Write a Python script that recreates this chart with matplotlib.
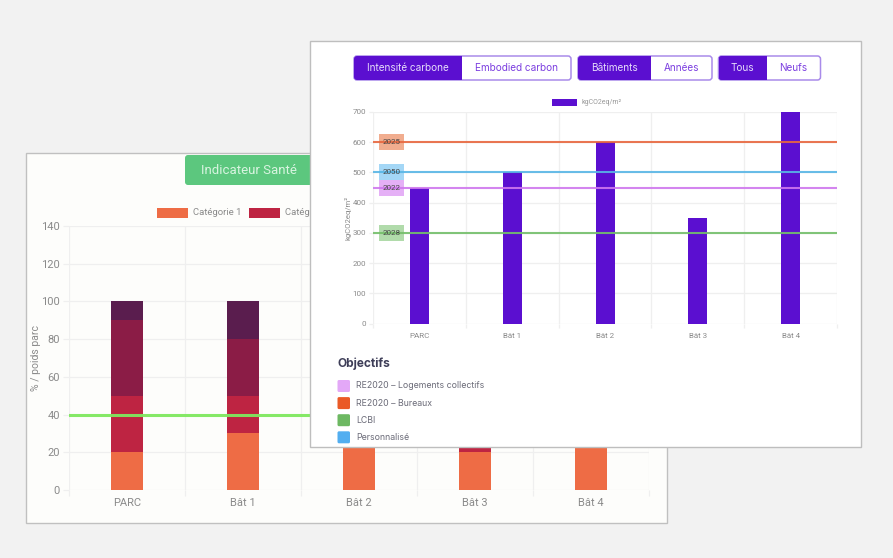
import matplotlib
matplotlib.use("Agg")
import matplotlib.pyplot as plt
from matplotlib.patches import Rectangle, FancyBboxPatch
from matplotlib.transforms import blended_transform_factory
import numpy as np

W, H = 893, 558

categories = ["PARC", "Bât 1", "Bât 2", "Bât 3", "Bât 4"]

# Back chart: stacked shares (hidden parts of Bât 2-4 are estimates)
cat1 = [20, 30, 40, 20, 50]
cat2 = [30, 20, 20, 30, 20]
cat3 = [40, 30, 30, 30, 20]
cat4 = [10, 20, 10, 20, 10]
stack_names = ["Catégorie 1", "Catégorie 2", "Catégorie 3", "Catégorie 4"]
stack_colors = ["#EE6C45", "#BE2442", "#8B1C46", "#5A1D4E"]
back_target = 40

# Front chart
intensity = [450, 500, 600, 350, 700]
goal_years = ["2025", "2050", "2022", "2028"]
goal_values = [600, 500, 450, 300]
goal_colors = ["#E8683F", "#58B6E6", "#CF78EE", "#74BF6A"]
goal_fills = ["#F0A483", "#9AD3F5", "#E3A8F5", "#A9D8A2"]

objective_names = ["RE2020 – Logements collectifs", "RE2020 – Bureaux", "LCBI", "Personnalisé"]
objective_colors = ["#E3A8F7", "#EA5A27", "#6DB862", "#52AEF0"]

PURPLE = "#5B0FD0"
GRID = "#EFEFEF"
TICK = "#8A8A8A"

plt.rcParams["font.family"] = ["Roboto", "DejaVu Sans"]
fig = plt.figure(figsize=(W / 100, H / 100), dpi=100, facecolor="#F2F2F2")


def px_axes(x0, y0, x1, y1, z):
    return fig.add_axes([x0 / W, 1 - y1 / H, (x1 - x0) / W, (y1 - y0) / H], zorder=z)


def chrome(z):
    a = fig.add_axes([0, 0, 1, 1], zorder=z)
    a.set_xlim(0, W)
    a.set_ylim(H, 0)
    a.axis("off")
    a.patch.set_alpha(0)
    return a


def style_chart(ax, ymax, step, tick_fs, xpad, ypad, tl):
    ax.patch.set_alpha(0)
    ax.set_xlim(-0.5, len(categories) - 0.5)
    ax.set_ylim(0, ymax)
    ax.set_yticks(np.arange(0, ymax + 1, step))
    ax.set_xticks(range(len(categories)))
    ax.set_xticklabels(categories)
    ax.set_xticks(np.arange(-0.5, len(categories)), minor=True)
    ax.tick_params(axis="x", which="major", length=0, pad=xpad + tl, labelsize=tick_fs, labelcolor=TICK)
    ax.tick_params(axis="x", which="minor", length=tl, color=GRID, width=0.9)
    ax.tick_params(axis="y", length=tl, color=GRID, width=0.9, pad=ypad, labelsize=tick_fs, labelcolor=TICK)
    ax.set_axisbelow(True)
    ax.grid(True, axis="y", color=GRID, lw=0.9)
    ax.grid(True, axis="x", which="minor", color=GRID, lw=0.9)
    ax.grid(False, axis="x", which="major")
    for s in ax.spines.values():
        s.set_visible(False)


def button_group(a, x0, xs, x1, y0, y1, left, right, fs):
    r = 3
    a.add_patch(FancyBboxPatch((x0 + r, y0 + r), x1 - x0 - 2 * r, y1 - y0 - 2 * r,
                               boxstyle=f"round,pad={r},rounding_size={r}",
                               fc="white", ec="#A98BEA", lw=1.1))
    clip = FancyBboxPatch((x0 + r, y0 + r), x1 - x0 - 2 * r, y1 - y0 - 2 * r,
                          boxstyle=f"round,pad={r},rounding_size={r}",
                          fc=PURPLE, ec="none", transform=a.transData)
    fill = a.add_patch(Rectangle((x0, y0), xs - x0, y1 - y0, fc=PURPLE, ec="none"))
    fill.set_clip_path(clip)
    a.text((x0 + xs) / 2, (y0 + y1) / 2, left, color="#E6DCFA", ha="center", va="center",
           fontsize=fs, family=["Inter", "DejaVu Sans"])
    a.text((xs + x1) / 2, (y0 + y1) / 2, right, color="#7C3FE0", ha="center", va="center",
           fontsize=fs, family=["Inter", "DejaVu Sans"])


# ---- back panel ----
back = chrome(1)
back.add_patch(Rectangle((26, 153), 641, 370, fc="#FDFDFB", ec="#C0C0C0", lw=1.0))
back.add_patch(FancyBboxPatch((188, 158), 130, 24, boxstyle="round,pad=3,rounding_size=3",
                              fc="#5CC77E", ec="none"))
back.text(249, 170.5, "Indicateur Santé", color="#D8F4E0", ha="center", va="center", fontsize=9.5)
for i, name in enumerate(stack_names):
    x = 157 + i * 92
    back.add_patch(Rectangle((x, 208), 31, 10, fc=stack_colors[i], ec="none"))
    back.text(x + 36, 212.5, name, color=TICK, ha="left", va="center", fontsize=6.8)

ax1 = px_axes(69, 226, 649, 490, 2)
style_chart(ax1, 140, 20, 8, 2, 2.5, 4)
bottom = np.zeros(len(categories))
for vals, col, name in zip([cat1, cat2, cat3, cat4], stack_colors, stack_names):
    ax1.bar(categories, vals, width=32 / 116, bottom=bottom, color=col, label=name, zorder=2)
    bottom += np.array(vals)
ax1.axhline(back_target, color="#7FE85F", lw=2.2, alpha=0.95, zorder=3)
ax1.set_ylabel("% / poids parc", fontsize=7.5, color=TICK, labelpad=0)

# ---- front panel ----
front = chrome(3)
front.add_patch(Rectangle((310, 41), 551, 406, fc="#FFFFFF", ec="#BEBEBE", lw=1.0))
button_group(front, 354, 462, 571, 56, 80, "Intensité carbone", "Embodied carbon", 7.2)
button_group(front, 578, 651, 712, 56, 80, "Bâtiments", "Années", 7.2)
button_group(front, 718.5, 766.5, 820.5, 56, 80, "Tous", "Neufs", 7.2)

front.add_patch(Rectangle((552, 98.5), 25, 7.5, fc=PURPLE, ec="none"))
front.text(581, 102, "kgCO2eq/m²", color="#999999", ha="left", va="center", fontsize=5)

front.text(337, 363.5, "Objectifs", color="#3E3E58", ha="left", va="center", fontsize=8.6,
           fontweight="bold", family=["Inter", "DejaVu Sans"])
for i, (name, col) in enumerate(zip(objective_names, objective_colors)):
    yc = 386 + i * 17.1
    front.add_patch(FancyBboxPatch((338.5, yc - 5), 10.5, 10, boxstyle="round,pad=1,rounding_size=1.5",
                                   fc=col, ec="none"))
    front.text(356, yc, name, color="#6B6B78", ha="left", va="center", fontsize=6.3,
               family=["Inter", "DejaVu Sans"])

ax2 = px_axes(373, 112, 837, 323.5, 4)
style_chart(ax2, 700, 100, 5.8, 4, 2, 3)
ax2.bar(categories, intensity, width=19 / 92.8, color=PURPLE, zorder=2, label="kgCO2eq/m²")
ax2.set_ylabel("kgCO2eq/m²", fontsize=5.5, color=TICK, labelpad=1)
tr = blended_transform_factory(ax2.transAxes, ax2.transData)
box_x0 = (379 - 373) / 464
box_w = 24.5 / 464
box_h = 16 / 211.5 * 700
for year, val, line_col, fill_col in zip(goal_years, goal_values, goal_colors, goal_fills):
    ax2.add_patch(Rectangle((box_x0, val - box_h / 2), box_w, box_h, transform=tr,
                            fc=fill_col, ec="none", alpha=0.9, zorder=3, clip_on=False))
for year, val, line_col in zip(goal_years, goal_values, goal_colors):
    ax2.axhline(val, color=line_col, lw=1.5, alpha=0.9, zorder=4)
    ax2.text(box_x0 + box_w / 2, val, year, transform=tr, ha="center", va="center",
             fontsize=5.8, color="#444444", zorder=5)

fig.savefig("out.png", dpi=100, facecolor=fig.get_facecolor())
